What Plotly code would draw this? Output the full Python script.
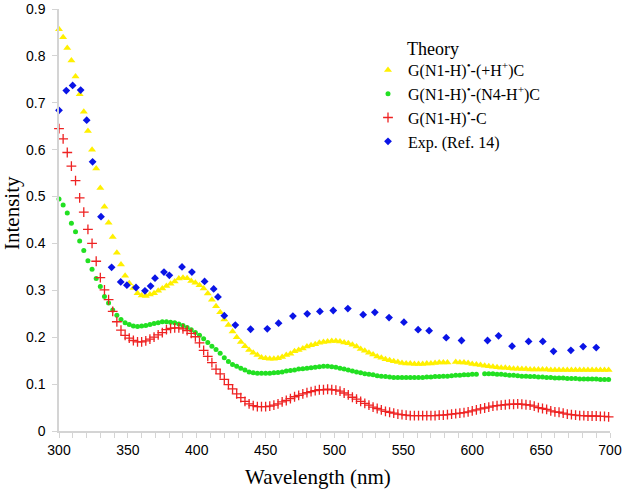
import plotly.graph_objects as go

# Theory wavelength grid (nm), step 3 nm
wl_theory = list(range(300, 700, 3))

# G(N1-H)•-(+H+)C  (yellow triangles)
y_hplus = [
    0.857, 0.840, 0.817, 0.790, 0.756, 0.718, 0.681, 0.640, 0.600, 0.560,
    0.518, 0.478, 0.444, 0.414, 0.380, 0.355, 0.331, 0.315, 0.305, 0.294,
    0.289, 0.288, 0.291, 0.294, 0.299, 0.304, 0.309, 0.314, 0.319, 0.325,
    0.327, 0.326, 0.320, 0.316, 0.311, 0.304, 0.293, 0.280, 0.266, 0.253,
    0.238, 0.226, 0.212, 0.200, 0.190, 0.181, 0.173, 0.167, 0.162, 0.157,
    0.155, 0.154, 0.154, 0.155, 0.158, 0.162, 0.165, 0.170, 0.173, 0.176,
    0.180, 0.183, 0.185, 0.188, 0.190, 0.191, 0.192, 0.192, 0.191, 0.189,
    0.187, 0.184, 0.180, 0.175, 0.171, 0.167, 0.163, 0.159, 0.156, 0.153,
    0.151, 0.149, 0.147, 0.145, 0.144, 0.144, 0.143, 0.143, 0.143, 0.144,
    0.144, 0.145, 0.146, 0.146, 0.146, None, 0.147, 0.146, 0.146, 0.145,
    0.143, 0.142, 0.141, 0.139, 0.138, 0.137, 0.136, 0.135, 0.135, 0.134,
    0.133, 0.133, 0.132, 0.132, 0.131, 0.131, 0.131, 0.131, 0.131, 0.130,
    0.130, 0.130, 0.130, 0.130, 0.130, 0.130, 0.130, 0.130, 0.130, 0.130,
    0.130, 0.130, 0.130, 0.130,
]

# G(N1-H)•-(N4-H+)C  (green circles)
y_n4h = [
    0.495, 0.482, 0.465, 0.443, 0.425, 0.405, 0.385, 0.363, 0.345, 0.325,
    0.308, 0.287, 0.273, 0.258, 0.247, 0.238, 0.231, 0.227, 0.224, 0.223,
    0.224, 0.225, 0.227, 0.229, 0.231, 0.233, 0.233, 0.232, 0.231, 0.228,
    0.225, 0.221, 0.216, 0.210, 0.204, 0.197, 0.189, 0.181, 0.174, 0.166,
    0.156, 0.148, 0.142, 0.138, 0.134, 0.130, 0.126, 0.124, 0.123, 0.123,
    0.123, 0.123, 0.124, 0.125, 0.126, 0.128, 0.129, 0.130, 0.132, 0.133,
    0.134, 0.135, 0.136, 0.137, 0.138, 0.138, 0.137, 0.136, 0.134, 0.132,
    0.130, 0.128, 0.126, 0.124, 0.122, 0.121, 0.120, 0.118, 0.117, 0.116,
    0.115, 0.114, 0.114, 0.114, 0.114, 0.114, 0.114, 0.114, 0.114, 0.115,
    0.115, 0.116, 0.116, 0.117, 0.117, 0.118, 0.119, 0.119, 0.120, 0.120,
    0.121, 0.121, None, 0.122, 0.122, 0.122, 0.121, 0.121, 0.120, 0.119,
    0.119, 0.118, 0.117, 0.117, 0.116, 0.116, 0.115, 0.115, 0.114, 0.114,
    0.113, 0.113, 0.113, 0.112, 0.112, 0.112, 0.111, 0.111, 0.111, 0.111,
    0.111, 0.110, 0.110, 0.110,
]

# G(N1-H)•-C  (red crosses)
y_neutral = [
    0.645, 0.623, 0.594, 0.565, 0.534, 0.497, 0.467, 0.430, 0.400, 0.362,
    0.327, 0.301, 0.280, 0.255, 0.233, 0.215, 0.204, 0.198, 0.193, 0.190,
    0.190, 0.192, 0.196, 0.200, 0.205, 0.210, 0.216, 0.219, 0.220, 0.220,
    0.218, 0.214, 0.208, 0.201, 0.188, 0.172, 0.159, 0.146, 0.132, 0.122,
    0.110, 0.099, 0.090, 0.079, 0.071, 0.063, 0.058, 0.054, 0.052, 0.052,
    0.052, 0.053, 0.055, 0.058, 0.062, 0.065, 0.069, 0.073, 0.076, 0.079,
    0.082, 0.084, 0.086, 0.088, 0.088, 0.089, 0.088, 0.087, 0.085, 0.081,
    0.077, 0.072, 0.068, 0.063, 0.059, 0.055, 0.051, 0.048, 0.045, 0.042,
    0.040, 0.038, 0.036, 0.035, 0.034, 0.033, 0.033, 0.033, 0.033, 0.033,
    0.033, 0.033, 0.034, 0.034, 0.035, 0.036, 0.037, 0.038, 0.039, 0.041,
    0.043, 0.045, 0.047, 0.049, 0.051, 0.053, 0.054, 0.055, 0.056, 0.057,
    0.057, 0.058, 0.057, 0.056, 0.055, 0.053, 0.050, 0.048, 0.046, 0.043,
    0.041, 0.040, 0.038, 0.036, 0.035, 0.034, 0.033, 0.033, 0.032, 0.032,
    0.032, 0.031, 0.031, 0.030,
]

# Experimental (Ref. 14)  (blue diamonds)
wl_exp = [
    300, 305.3, 309.9, 315.7, 320.1, 324.4, 330.5, 338.2, 344.8, 349.3,
    355.9, 362.4, 366.5, 369.7, 376.2, 380.1, 389.3, 396.5, 405.7, 412.3,
    415.4, 420, 428, 439.1, 451.2, 459.4, 469.8, 480.2, 489.4, 499.1,
    509.7, 520.8, 529.3, 539.6, 550.4, 560.7, 568.7, 581.1, 592.2, 611.1,
    619.1, 628.9, 640.9, 651.2, 659, 671.6, 680.5, 690,
]
y_exp = [
    0.684, 0.726, 0.737, 0.727, 0.663, 0.574, 0.457, 0.349, 0.318, 0.311,
    0.306, 0.299, 0.309, 0.326, 0.339, 0.332, 0.350, 0.339, 0.319, 0.303,
    0.286, 0.246, 0.226, 0.217, 0.218, 0.230, 0.245, 0.250, 0.255, 0.257,
    0.261, 0.248, 0.253, 0.242, 0.232, 0.216, 0.214, 0.199, 0.193, 0.193,
    0.203, 0.181, 0.191, 0.191, 0.170, 0.172, 0.180, 0.178,
]

names = [
    "G(N1-H)<sup>•</sup>-(+H<sup>+</sup>)C",
    "G(N1-H)<sup>•</sup>-(N4-H<sup>+</sup>)C",
    "G(N1-H)<sup>•</sup>-C",
    "Exp. (Ref. 14)",
]

fig = go.Figure()
fig.add_trace(go.Scatter(
    x=wl_theory, y=y_hplus, mode="markers", name=names[0],
    marker=dict(symbol="triangle-up", size=7, color="#FFF000"),
    cliponaxis=False))
fig.add_trace(go.Scatter(
    x=wl_theory, y=y_n4h, mode="markers", name=names[1],
    marker=dict(symbol="circle", size=5, color="#22E022"),
    cliponaxis=False))
fig.add_trace(go.Scatter(
    x=wl_theory, y=y_neutral, mode="markers", name=names[2],
    marker=dict(symbol="cross-thin", size=7, color="#EE2222",
                line=dict(color="#EE2222", width=1.3)),
    cliponaxis=False))
fig.add_trace(go.Scatter(
    x=wl_exp, y=y_exp, mode="markers", name=names[3],
    marker=dict(symbol="diamond", size=6, color="#0A14E6"),
    cliponaxis=False))

W, H = 625, 491
ml, mr, mt, mb = 59, 15, 9, 60
pw = W - ml - mr
ph = H - mt - mb

axis_common = dict(
    showgrid=False, zeroline=False, showline=True, automargin=False,
    linecolor="#D4D4D4", linewidth=1.5,
    ticks="outside", ticklen=5, tickcolor="#D4D4D4", tickwidth=1,
    tickfont=dict(family="Liberation Sans, Arial", size=14, color="black"),
)

fig.update_layout(
    width=W, height=H,
    margin=dict(l=ml, r=mr, t=mt, b=mb, autoexpand=False),
    paper_bgcolor="white", plot_bgcolor="white",
    showlegend=True,
    legend=dict(
        x=(368 - ml) / pw, y=(H - mb - 53) / ph,
        xanchor="left", yanchor="top",
        font=dict(family="Liberation Serif, Times New Roman", size=16, color="black"),
        bgcolor="rgba(0,0,0,0)", tracegroupgap=0, itemwidth=30,
    ),
    xaxis=dict(range=[300, 700], dtick=50, tick0=300,
               minor=dict(dtick=10, ticks="outside", ticklen=5, tickcolor="#D4D4D4"),
               **axis_common),
    yaxis=dict(range=[0, 0.9], dtick=0.1, tick0=0, ticklabelstandoff=4,
               **axis_common),
    annotations=[
        dict(text="Wavelength (nm)", xref="paper", yref="paper",
             x=(317.5 - ml) / pw, y=-(477 - (H - mb)) / ph,
             xanchor="center", yanchor="middle", showarrow=False,
             font=dict(family="Liberation Serif, Times New Roman", size=21, color="black")),
        dict(text="Intensity", xref="paper", yref="paper",
             x=-(ml - 12) / pw, y=(H - mb - 213) / ph,
             xanchor="center", yanchor="middle", showarrow=False, textangle=-90,
             font=dict(family="Liberation Serif, Times New Roman", size=21, color="black")),
        dict(text="Theory", xref="paper", yref="paper",
             x=(405 - ml) / pw, y=(H - mb - 49) / ph,
             xanchor="left", yanchor="middle", showarrow=False,
             font=dict(family="Liberation Serif, Times New Roman", size=18, color="black")),
    ],
)

fig.write_html("out.html", config={"displayModeBar": False},
               post_script="document.body.style.margin='0';")
